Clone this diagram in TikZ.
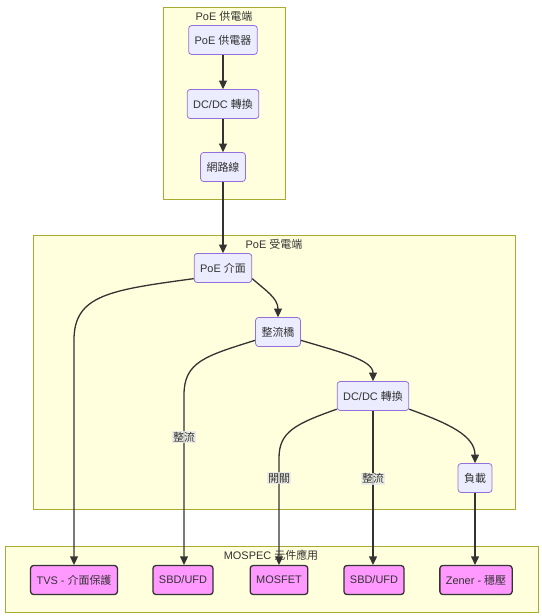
\documentclass[tikz,border=0pt]{standalone}
\usepackage{fontspec}
\setmainfont{Liberation Sans}
\newfontfamily\cjk{Noto Sans CJK TC}
\usetikzlibrary{arrows.meta}
\definecolor{nodefill}{HTML}{ECECFF}
\definecolor{nodeline}{HTML}{9370DB}
\definecolor{clfill}{HTML}{FFFFDE}
\definecolor{clline}{HTML}{AAAA33}
\definecolor{pinkfill}{HTML}{FF99FF}
\definecolor{txt}{HTML}{333333}
\definecolor{lblbg}{HTML}{E8E8E8}
\tikzset{
  box/.style={draw=nodeline, fill=nodefill, rounded corners=3bp, line width=0.8bp,
    minimum height=29bp, inner xsep=6bp, text=txt, font=\fontsize{11}{13}\selectfont},
  pinkbox/.style={box, draw=txt, fill=pinkfill, line width=1.3bp},
  cluster/.style={draw=clline, fill=clfill, line width=0.8bp, anchor=north west, inner sep=0pt},
  ctitle/.style={text=txt, font=\fontsize{11}{13}\selectfont, inner sep=0pt},
  edge/.style={draw=txt, line width=1.3bp, -{Triangle[length=8.5bp,width=8bp]}},
  elabel/.style={fill=lblbg, fill opacity=0.8, text opacity=1, inner sep=1bp, text=txt,
    font=\fontsize{11}{13}\selectfont}
}
\begin{document}
\begin{tikzpicture}[x=1bp,y=-1bp]
\useasboundingbox (0,0) rectangle (542,616);
% clusters
\node[cluster, minimum width=122bp, minimum height=192bp] (c1) at (163,7) {};
\node[ctitle] (t1) at (224,16) {PoE {\cjk 供電端}};
\node[cluster, minimum width=482bp, minimum height=274bp] (c2) at (33,235) {};
\node[ctitle] (t2) at (274,244) {PoE {\cjk 受電端}};
\node[cluster, minimum width=533bp, minimum height=66bp] (c3) at (5,546) {};
\node[ctitle] (t3) at (271,555) {MOSPEC {\cjk 元件應用}};
% nodes
\node[box] (s1) at (223,40) {PoE {\cjk 供電器}};
\node[box] (s2) at (223,104) {DC/DC {\cjk 轉換}};
\node[box] (s3) at (223,167) {{\cjk 網路線}};
\node[box] (pi) at (223,268) {PoE {\cjk 介面}};
\node[box] (br) at (278,332) {{\cjk 整流橋}};
\node[box] (dc) at (373,396) {DC/DC {\cjk 轉換}};
\node[box] (ld) at (475,478) {{\cjk 負載}};
\node[pinkbox] (tvs) at (74,580) {TVS - {\cjk 介面保護}};
\node[pinkbox] (sb1) at (183,580) {SBD/UFD};
\node[pinkbox] (mos) at (279,580) {MOSFET};
\node[pinkbox] (sb2) at (374,580) {SBD/UFD};
\node[pinkbox] (zen) at (476,580) {Zener - {\cjk 穩壓}};
% edges
\draw[edge] (s1) -- (s2);
\draw[edge] (s2) -- (s3);
\draw[edge] (s3) -- (pi);
\draw[edge] (pi.340) .. controls (265,290) and (278,298) .. (br.north);
\draw[edge] (pi.200) .. controls (110,290) and (74,295) .. (74,340) -- (tvs.north -| 74,0);
\draw[edge] (br.200) .. controls (205,356) and (184,362) .. (184,395)
  -- node[elabel, pos=0.25] (l1) {\cjk 整流} (sb1.north -| 184,0);
\draw[edge] (br.340) .. controls (340,352) and (373,360) .. (dc.north);
\draw[edge] (dc.200) .. controls (295,424) and (279,432) .. (279,458)
  -- node[elabel, pos=0.19] (l2) {\cjk 開關} (mos.north);
\draw[edge] (dc.south) -- node[elabel, pos=0.44] (l3) {\cjk 整流} (sb2.north -| dc.south);
\draw[edge] (dc.340) .. controls (450,424) and (475,436) .. (ld.north);
\draw[edge] (ld) -- (ld |- zen.north);
\end{tikzpicture}
\end{document}
